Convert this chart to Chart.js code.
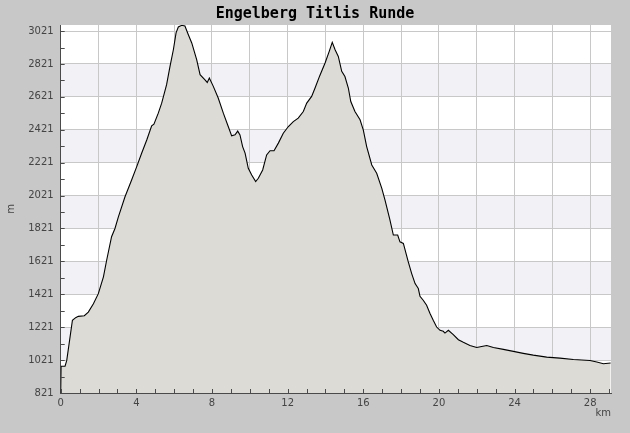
<!DOCTYPE html>
<html>
<head>
<meta charset="utf-8">
<script src="https://cdn.jsdelivr.net/npm/chart.js@4"></script>
<style>
  html, body { margin: 0; padding: 0; background: #C8C8C8; }
  #wrap { width: 630px; height: 433px; }
</style>
</head>
<body>
<div id="wrap"><canvas id="c" width="630" height="433"></canvas></div>
<script>
const chartTitle = 'Engelberg Titlis Runde';
const xTitle = 'km';
const yTitle = 'm';

const distanceKm = [
  0.00, 0.02, 0.23, 0.32, 0.62, 0.79, 0.93, 1.25, 1.46, 1.73, 1.99, 2.26, 2.43, 2.69, 2.87,
  3.05, 3.40, 3.75, 4.02, 4.28, 4.55, 4.81, 4.93, 5.16, 5.34, 5.60, 5.78, 5.96, 6.10, 6.22,
  6.40, 6.57, 6.75, 6.93, 7.19, 7.37, 7.63, 7.75, 7.86, 8.07, 8.33, 8.60, 8.86, 9.04, 9.22,
  9.36, 9.48, 9.62, 9.75, 9.92, 10.10, 10.31, 10.45, 10.68, 10.89, 11.07, 11.28, 11.51, 11.77,
  12.04, 12.30, 12.56, 12.83, 13.01, 13.27, 13.45, 13.70, 13.98, 14.20, 14.36, 14.51, 14.68,
  14.86, 15.03, 15.21, 15.34, 15.56, 15.83, 16.00, 16.18, 16.45, 16.71, 16.98, 17.15, 17.40,
  17.59, 17.82, 17.94, 18.12, 18.38, 18.56, 18.74, 18.91, 19.00, 19.17, 19.35, 19.53, 19.70,
  19.88, 20.06, 20.23, 20.32, 20.50, 20.76, 21.03, 21.29, 21.64, 22.00, 22.26, 22.53, 22.88,
  23.41, 23.94, 24.46, 24.99, 25.70, 26.40, 27.11, 27.99, 28.35, 28.70, 29.08
];
const elevationM = [
  821, 984, 984, 1019, 1263, 1279, 1287, 1291, 1313, 1364, 1425, 1527, 1628, 1771, 1821,
  1892, 2014, 2116, 2197, 2278, 2359, 2445, 2455, 2522, 2583, 2695, 2807, 2909, 3010, 3046,
  3056, 3052, 2999, 2949, 2847, 2756, 2725, 2709, 2736, 2685, 2614, 2522, 2441, 2384, 2390,
  2413, 2390, 2319, 2279, 2187, 2146, 2106, 2126, 2177, 2268, 2294, 2294, 2340, 2400,
  2441, 2471, 2492, 2532, 2583, 2624, 2675, 2750, 2827, 2898, 2953, 2908, 2867,
  2776, 2745, 2675, 2593, 2532, 2482, 2421, 2319, 2207, 2157, 2065, 1994, 1878,
  1781, 1781, 1740, 1730, 1618, 1547, 1486, 1456, 1409, 1385, 1354, 1304, 1263,
  1222, 1202, 1196, 1185, 1202, 1176, 1145, 1129, 1110, 1098, 1104, 1110, 1098,
  1086, 1074, 1062, 1051, 1039, 1033, 1025, 1019, 1009, 999, 1003
];

const xTickValues = [0,1,2,3,4,5,6,7,8,9,10,11,12,13,14,15,16,17,18,19,20,21,22,23,24,25,26,27,28,29];
const xLabelValues = [0,4,8,12,16,20,24,28];
const xGridValues = [0,2,4,6,8,10,12,14,16,18,20,22,24,26,28];
const yTickValues = [821,921,1021,1121,1221,1321,1421,1521,1621,1721,1821,1921,2021,2121,2221,2321,2421,2521,2621,2721,2821,2921,3021];
const yLabelValues = [821,1021,1221,1421,1621,1821,2021,2221,2421,2621,2821,3021];

const points = distanceKm.map((d, i) => ({ x: d, y: elevationM[i] }));

const GRID = '#C8C8C8';
const BAND = '#F2F1F5';
const AXIS = '#4A4A4A';
const LABEL = '#444444';
const tickFont = { family: 'DejaVu Sans', size: 10 };

const backdrop = {
  id: 'backdrop',
  beforeDraw(chart) {
    const { ctx, chartArea: a } = chart;
    const y = chart.scales.y;
    ctx.save();
    ctx.fillStyle = '#C8C8C8';
    ctx.fillRect(0, 0, chart.width, chart.height);
    ctx.fillStyle = '#FFFFFF';
    ctx.fillRect(a.left, a.top, a.right - a.left, a.bottom - a.top);
    ctx.fillStyle = BAND;
    for (let i = 1; i + 1 < yLabelValues.length; i += 2) {
      const y1 = y.getPixelForValue(yLabelValues[i + 1]);
      const y2 = y.getPixelForValue(yLabelValues[i]);
      ctx.fillRect(a.left, y1, a.right - a.left, y2 - y1);
    }
    ctx.restore();
  }
};

const innerTicks = {
  id: 'innerTicks',
  afterDatasetsDraw(chart) {
    const { ctx, chartArea: a } = chart;
    const xs = chart.scales.x, ys = chart.scales.y;
    ctx.save();
    ctx.strokeStyle = AXIS;
    ctx.lineWidth = 1;
    ctx.beginPath();
    xTickValues.forEach(v => {
      const px = Math.round(xs.getPixelForValue(v)) + 0.5;
      ctx.moveTo(px, a.bottom);
      ctx.lineTo(px, a.bottom - 4);
    });
    yTickValues.forEach(v => {
      const py = Math.round(ys.getPixelForValue(v)) + 0.5;
      ctx.moveTo(a.left, py);
      ctx.lineTo(a.left + 4, py);
    });
    ctx.stroke();
    ctx.restore();
  }
};

new Chart(document.getElementById('c'), {
  type: 'line',
  data: {
    datasets: [{
      data: points,
      borderColor: '#000000',
      borderWidth: 1.1,
      backgroundColor: '#DCDBD6',
      fill: 'start',
      pointRadius: 0,
      tension: 0
    }]
  },
  options: {
    responsive: false,
    animation: false,
    devicePixelRatio: 1,
    parsing: false,
    layout: { padding: 0 },
    plugins: {
      legend: { display: false },
      tooltip: { enabled: false },
      title: {
        display: true,
        text: chartTitle,
        color: '#000000',
        font: { family: 'DejaVu Sans Mono', size: 15, weight: 'bold' },
        padding: { top: 5, bottom: 2 }
      }
    },
    scales: {
      x: {
        type: 'linear',
        min: 0,
        max: 29.1,
        afterFit(s) { s.height = 40; },
        afterBuildTicks(s) { s.ticks = xTickValues.map(v => ({ value: v })); },
        grid: {
          drawTicks: false,
          lineWidth: 1,
          color: c => (c.tick && xGridValues.includes(c.tick.value)) ? GRID : 'rgba(0,0,0,0)'
        },
        border: { display: true, color: AXIS, width: 1 },
        ticks: {
          autoSkip: false,
          maxRotation: 0,
          padding: 4,
          color: LABEL,
          font: tickFont,
          callback: v => xLabelValues.includes(v) ? String(v) : ''
        },
        title: {
          display: true,
          text: xTitle,
          align: 'end',
          color: LABEL,
          font: tickFont,
          padding: { top: 0, bottom: 14 }
        }
      },
      y: {
        type: 'linear',
        position: 'left',
        min: 821,
        max: 3058,
        afterFit(s) { s.width = 60.7; },
        afterBuildTicks(s) { s.ticks = yTickValues.map(v => ({ value: v })); },
        grid: {
          drawTicks: false,
          lineWidth: 1,
          color: c => (c.tick && yLabelValues.includes(c.tick.value) && c.tick.value !== 821) ? GRID : 'rgba(0,0,0,0)'
        },
        border: { display: true, color: AXIS, width: 1 },
        ticks: {
          autoSkip: false,
          padding: 7,
          color: LABEL,
          font: tickFont,
          callback: v => yLabelValues.includes(v) ? String(v) : ''
        },
        title: {
          display: true,
          text: yTitle,
          color: LABEL,
          font: tickFont,
          padding: { top: 5, bottom: 0 }
        }
      },
      yRightMargin: {
        type: 'linear',
        position: 'right',
        min: 821,
        max: 3058,
        afterFit(s) { s.width = 19; },
        grid: { display: false, drawTicks: false },
        border: { display: false },
        ticks: { display: false },
        title: { display: false }
      }
    }
  },
  plugins: [backdrop, innerTicks]
});
</script>
</body>
</html>
